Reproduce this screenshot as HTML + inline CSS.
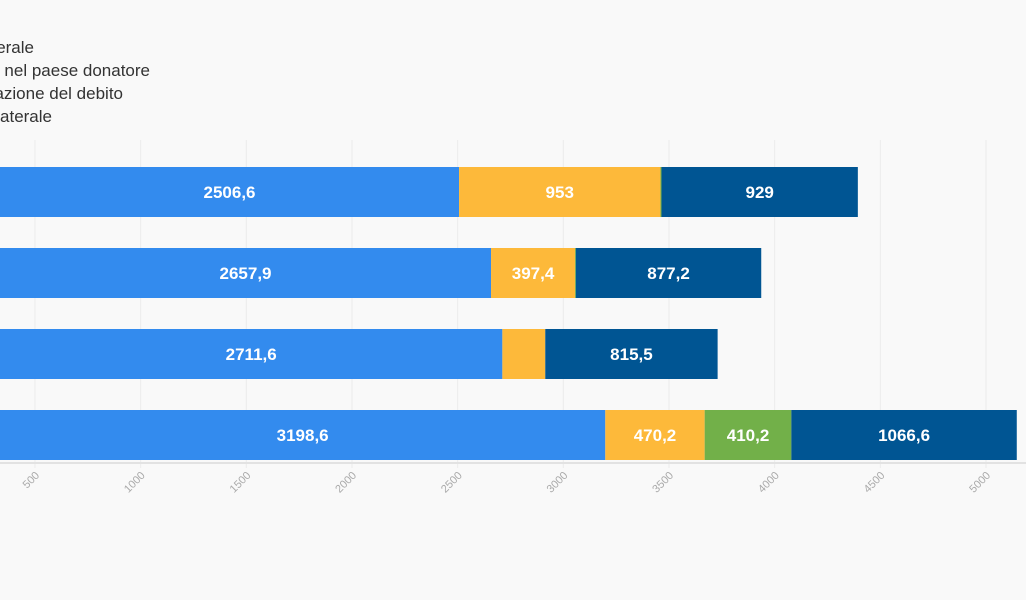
<!DOCTYPE html>
<html><head><meta charset="utf-8"><style>
html,body{margin:0;padding:0;background:#f9f9f9;width:1026px;height:600px;overflow:hidden}
svg{display:block;font-family:"Liberation Sans",sans-serif}
</style></head><body>
<svg width="1026" height="600" id="chart"></svg>
<script>
const categories=["A","B","C","D"];
const seriesNames=["Multilaterale","Costi sostenuti nel paese donatore","Cancellazione del debito","Bilaterale"];
const s1=[2506.6,2657.9,2711.6,3198.6];
const s2=[953,397.4,203,470.2];
const s3=[5,4,0,410.2];
const s4=[929,877.2,815.5,1066.6];
const colors=["#338bee","#fdb93a","#72b049","#005593"];
const ticks=[500,1000,1500,2000,2500,3000,3500,4000,4500,5000];
const legendEnds=[34,150,123,52];
const NS="http://www.w3.org/2000/svg";
const svg=document.getElementById("chart");
const x=v=>-70.7+v*0.21134;
const barTop=[167,248,329,410],barH=50;
function mk(t,a){const e=document.createElementNS(NS,t);for(const k in a)e.setAttribute(k,a[k]);svg.appendChild(e);return e;}
// legend
seriesNames.forEach((n,i)=>{
 const t=mk("text",{x:legendEnds[i],y:53+i*23,"text-anchor":"end","font-size":"17",fill:"#333"});
 
 
 t.textContent=n;
});
// grid + ticks
ticks.forEach(v=>{
 const g=mk("line",{x1:x(v),x2:x(v),y1:140,y2:468,stroke:"#ececec","stroke-width":1});
 
 
 const t=mk("text",{x:0,y:0,"font-size":"11",fill:"#aaa","text-anchor":"end",transform:`translate(${x(v)+5},${476}) rotate(-45)`});
 
 
 t.textContent=v;
});
const ax=mk("line",{x1:0,x2:1026,y1:463,y2:463,stroke:"#e2e2e2","stroke-width":2});


const series=[s1,s2,s3,s4];
categories.forEach((c,i)=>{
 let acc=0;
 series.forEach((s,j)=>{
  const v=s[i];const x0=x(acc),x1=x(acc+v);acc+=v;
  if(v<=0)return;
  const r=mk("rect",{x:x0,y:barTop[i],width:x1-x0,height:barH,fill:colors[j]});
  
  
  if(x1-x0>60){
   const t=mk("text",{x:Math.max((x0+x1)/2,(0+x1)/2),y:barTop[i]+31,"text-anchor":"middle","font-size":"17","font-weight":"bold",fill:"#fff"});
   
   
   t.textContent=String(v).replace('.',',');
  }
 });
});
</script>
</body></html>
